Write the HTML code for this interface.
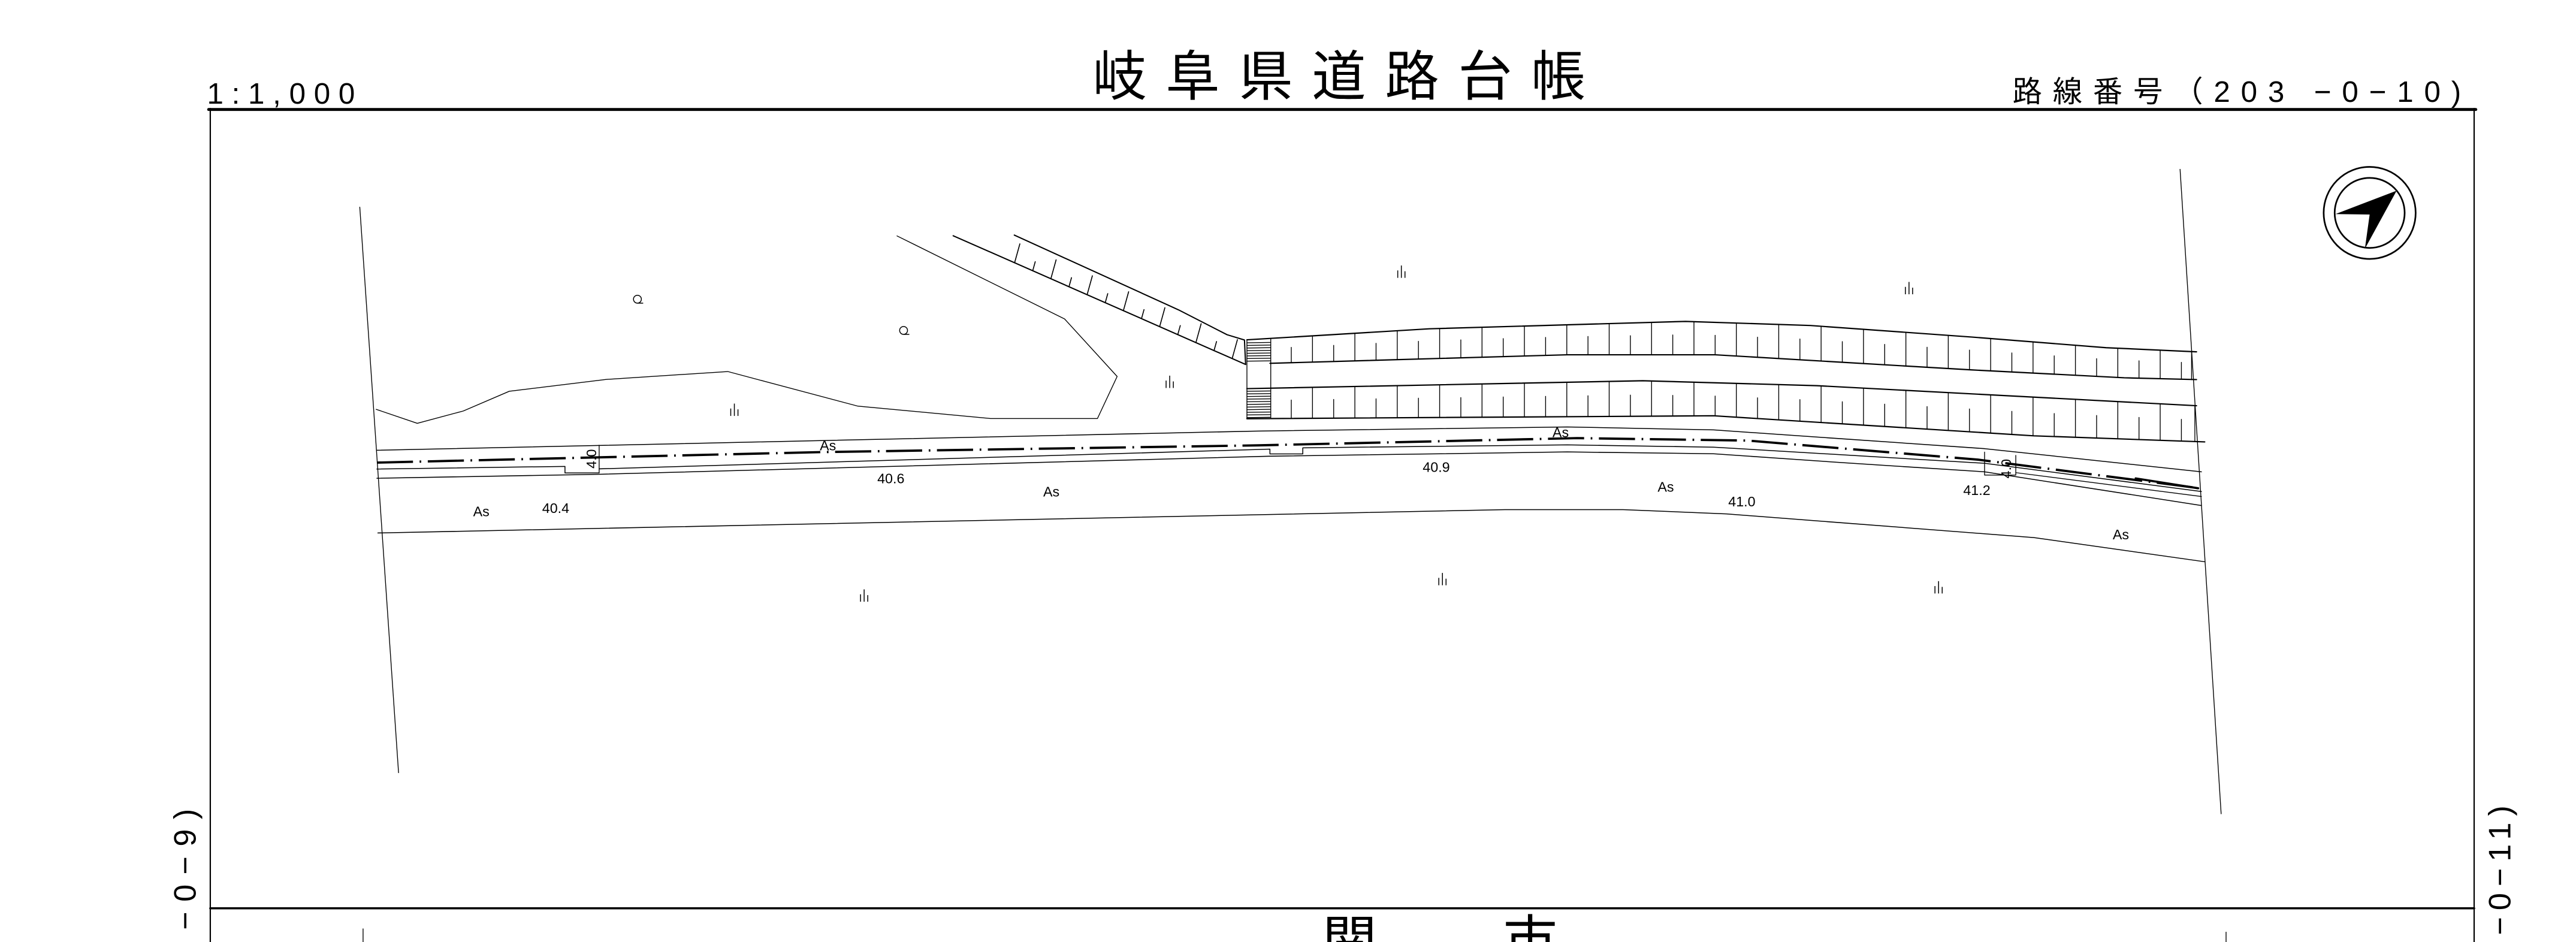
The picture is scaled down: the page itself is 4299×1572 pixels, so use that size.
<!DOCTYPE html>
<html><head><meta charset="utf-8">
<style>
html,body{margin:0;padding:0;background:#fff;width:4299px;height:1572px;overflow:hidden;}
svg{display:block;overflow:hidden;}
text{font-family:"Liberation Sans","Noto Sans CJK JP",sans-serif;fill:#000;}
.n{font-family:"Liberation Sans Narrow","Liberation Sans",sans-serif;font-size:8.5px;}
</style></head>
<body>
<svg id="s" xmlns="http://www.w3.org/2000/svg" width="4299" height="1572" viewBox="0 0 1568 573" preserveAspectRatio="none">
<rect x="0" y="0" width="1568" height="573" fill="#fff"/>
<g fill="none" stroke="#000" stroke-linejoin="round" stroke-linecap="round">
<line x1="127" y1="66.6" x2="1507" y2="66.6" stroke-width="1.8"/>
<line x1="128" y1="66" x2="128" y2="573" stroke-width="0.8"/>
<line x1="1506" y1="66" x2="1506" y2="573" stroke-width="0.8"/>
<line x1="128" y1="552.5" x2="1506" y2="552.5" stroke-width="1.3"/>
<line x1="221" y1="565" x2="221" y2="573" stroke-width="0.5"/>
<line x1="1355" y1="567" x2="1355" y2="573" stroke-width="0.5"/>
<line x1="219" y1="126" x2="242.6" y2="470" stroke-width="0.5"/>
<line x1="1327" y1="103" x2="1352" y2="495" stroke-width="0.5"/>
<polyline points="546,143.5 648,194 680,229 668,254.6 603,254.6 522,247 443,226 369,230.8 310,238 282,250 254,257.5 229,249" stroke-width="0.5"/>
<polyline points="580.2,143.4 758.2,221.7" stroke-width="0.75"/>
<polyline points="617.4,143 717.4,188.5 746.9,203.6 757.5,206.8 758.2,221.7" stroke-width="0.75"/>
<g id="dticks" stroke-width="0.6"></g>
<polyline id="t1" points="759,206.7 870,200 1026,195.5 1102,198 1200,205 1282,211.5 1337,214" stroke-width="0.8"/>
<polyline id="b1" points="773,221 954,215.8 1044,215.8 1200,225 1293,229.8 1337,230.9" stroke-width="0.8"/>
<polyline id="t2" points="759,236.4 1000,231.6 1106,234.6 1337,246.8" stroke-width="0.8"/>
<polyline id="b2" points="759,254.7 1043,252.9 1238,265.1 1342,268.8" stroke-width="0.8"/>
<line x1="759" y1="206.7" x2="759" y2="254.7" stroke-width="0.5"/>
<line x1="773.5" y1="206" x2="773.5" y2="254" stroke-width="0.5"/>
<line x1="1334" y1="213.8" x2="1334" y2="231" stroke-width="0.5"/>
<line x1="1336" y1="246.7" x2="1336" y2="268.7" stroke-width="0.5"/>
<g id="wticks" stroke-width="0.5"></g>
<polyline points="229.4,273.9 765.9,262.2 954,259.7 1043,261.5 1208,272.9 1340,287" stroke-width="0.55"/>
<polyline points="229.4,281.4 500,275 765.9,270.9 960,266.5 1064,268 1204,279.6 1336,296.6" stroke-width="1.4" stroke-dasharray="22,4,1,4" stroke-linecap="butt"/>
<polyline points="229.4,285.3 343.9,283.7 343.9,287.7 364.7,287.7" stroke-width="0.55"/>
<line x1="364.7" y1="270.8" x2="364.7" y2="287.7" stroke-width="0.5"/>
<polyline points="364.7,285.2 773,273.2 773,276.1 793,276.1 793,272.4 954,270.6 1043,272 1208,281.8 1340,299" stroke-width="0.55"/>
<polyline points="229.4,290.9 364.7,288.5 773,277.5 954,274.9 1043,276 1124,281.6 1208,287 1340,307.5" stroke-width="0.55"/>
<polyline points="1208,275 1208,289 1227,289 1227,277" stroke-width="0.5"/>
<line x1="1227" y1="287.5" x2="1340" y2="302" stroke-width="0.5"/>
<line x1="1300" y1="291" x2="1338" y2="297" stroke-width="1.3"/>
<polyline points="230,324.2 765.9,313.1 916,310 988,310 1051,312.6 1238,327 1342,341.7" stroke-width="0.55"/>
<circle cx="1442.4" cy="129.5" r="28" stroke-width="1"/>
<circle cx="1442.4" cy="129.5" r="21.3" stroke-width="1"/>
</g>
<polygon points="1458.8,116 1421.6,130.2 1442.4,130.5 1439.5,151.3" fill="#000"/>
<g id="sym" fill="none" stroke="#000" stroke-width="0.55"></g>
<text x="126" y="63" font-size="18" letter-spacing="5">1:1,000</text>
<text x="665" y="58" font-size="33" letter-spacing="11.5">岐阜県道路台帳</text>
<text x="1225" y="62" font-size="18" letter-spacing="6.5">路線番号（203 −0−10)</text>
<text transform="translate(119,486) rotate(-90)" font-size="19" letter-spacing="6" text-anchor="end">−0−9)</text>
<text transform="translate(1528,486) rotate(-90)" font-size="19" letter-spacing="4" text-anchor="end">−0−11)</text>
<text x="805" y="584" font-size="33">関</text>
<text x="915" y="584" font-size="33">市</text>
<text class="n" x="499" y="274">As</text>
<text class="n" x="945" y="266">As</text>
<text class="n" x="288" y="314">As</text>
<text class="n" x="635" y="302">As</text>
<text class="n" x="1009" y="299">As</text>
<text class="n" x="1286" y="328">As</text>
<text class="n" x="330" y="312">40.4</text>
<text class="n" x="534" y="294">40.6</text>
<text class="n" x="866" y="287">40.9</text>
<text class="n" x="1052" y="308">41.0</text>
<text class="n" x="1195" y="301">41.2</text>
<text class="n" transform="translate(363,285) rotate(-90)">4.0</text>
<text class="n" transform="translate(1224,291) rotate(-90)">4.0</text>
</svg>
<script>
var NS="http://www.w3.org/2000/svg";
function ln(g,x1,y1,x2,y2){var l=document.createElementNS(NS,"line");l.setAttribute("x1",x1);l.setAttribute("y1",y1);l.setAttribute("x2",x2);l.setAttribute("y2",y2);g.appendChild(l);}
function yAt(id,x){var p=document.getElementById(id).getAttribute("points").trim().split(/\s+/).map(function(s){return s.split(",").map(Number);});
 if(x<=p[0][0])return p[0][1];for(var i=1;i<p.length;i++){if(x<=p[i][0]){var t=(x-p[i-1][0])/(p[i][0]-p[i-1][0]);return p[i-1][1]+t*(p[i][1]-p[i-1][1]);}}return p[p.length-1][1];}
var wg=document.getElementById("wticks");
var k=0;
for(var x=786;x<1334;x+=12.9){k++;
 var a=yAt("t1",x),b=yAt("b1",x);
 if(k%2==0)ln(wg,x,a,x,b);else ln(wg,x,a+(b-a)*0.4,x,b);
 var c=yAt("t2",x),d=yAt("b2",x);
 if(k%2==0)ln(wg,x,c,x,d);else ln(wg,x,c+(d-c)*0.4,x,d);
}
for(var y=208.5;y<221;y+=1.6)ln(wg,759,y,773.5,y-0.2);
for(var y=238;y<254;y+=1.6)ln(wg,759,y,773.5,y-0.2);
var dg=document.getElementById("dticks");
var L0=[580.2,143.4],L1=[758.2,221.7];
for(var i=0;i<13;i++){var t=0.21+i*0.062;if(t>0.97)break;
 var x=L0[0]+t*(L1[0]-L0[0]),y=L0[1]+t*(L1[1]-L0[1]);
 var len=(i%2==0)?11.5:5.5;ln(dg,x,y,x+3.2*len/11.5,y-len);}
var sg=document.getElementById("sym");
function grass(cx,cy){ln(sg,cx-2.2,cy-1.5,cx-2.2,cy+3);ln(sg,cx,cy-4.5,cx,cy+3);ln(sg,cx+2.2,cy-1,cx+2.2,cy+3);}
[[853,166],[1162,176],[447,250],[712,233],[526,363],[878,353],[1180,358]].forEach(function(p){grass(p[0],p[1]);});
function orch(cx,cy){var c=document.createElementNS(NS,"circle");c.setAttribute("cx",cx);c.setAttribute("cy",cy);c.setAttribute("r",2.4);sg.appendChild(c);ln(sg,cx,cy+2.4,cx+3.5,cy+2.4);}
orch(388,182);orch(550,201);
</script>
</body></html>
